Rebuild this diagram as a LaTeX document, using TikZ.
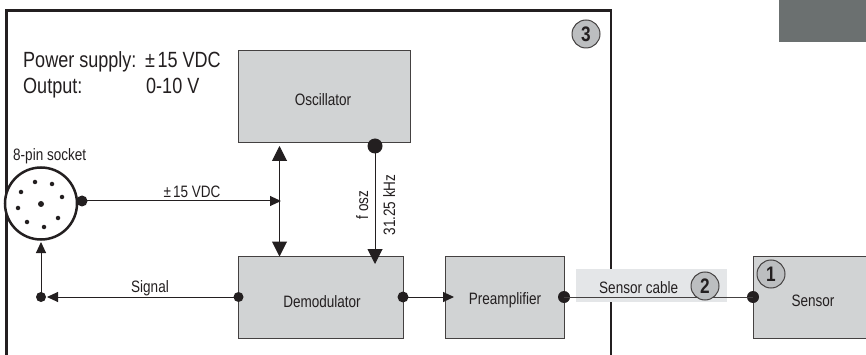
\documentclass[tikz,border=0pt]{standalone}
\usepackage{fontspec}
\setmainfont[FakeStretch=0.82]{Liberation Sans}
\usetikzlibrary{arrows.meta}
\definecolor{ink}{HTML}{231F20}
\definecolor{boxgrey}{HTML}{D1D3D4}
\definecolor{numgrey}{HTML}{BCBEC0}
\definecolor{bandgrey}{HTML}{E4E6E8}
\definecolor{patchgrey}{HTML}{6B7070}
\newcommand{\fsz}[1]{\fontsize{#1}{#1}\selectfont}
\tikzset{
  x=1pt,y=-1pt,
  block/.style={draw=ink!85,line width=1pt,fill=boxgrey,inner sep=0pt},
  dotnode/.style={circle,fill=ink,inner sep=0pt,minimum size=#1},
  pin/.style={circle,fill=ink,inner sep=0pt,minimum size=4.5},
  numcircle/.style={circle,draw=ink!85,line width=1pt,fill=numgrey,inner sep=0pt,minimum size=28,font=\fsz{21}\bfseries,text=ink},
  lbl/.style={anchor=base,inner sep=0pt,font=\fsz{16.5},text=ink},
  big/.style={anchor=base west,inner sep=0pt,font=\fsz{22},text=ink},
  wire/.style={draw=ink,line width=1pt},
  tipbig/.style={-{Triangle[length=15,width=15]}},
  tipsmall/.style={-{Triangle[length=11,width=10]}},
}
\begin{document}
\begin{tikzpicture}
\useasboundingbox (0,0) rectangle (866,355);
\fill[white] (0,0) rectangle (866,355);
\fill[patchgrey] (779,0) rectangle (866,42);
% housing
\draw[ink,line width=2.5pt] (6.5,355) -- (6.5,10.5) -- (611,10.5) -- (611,355);
\node[numcircle] (n3) at (586,34) {3};
% text block
\node[big] (ps) at (23,68) {Power supply:};
\node[big] (psv) at (145,68) {±\kern2.5pt 15 VDC};
\node[big] (ou) at (23,93.5) {Output:};
\node[big] (ouv) at (146,93.5) {0-10 V};
% blocks
\node[block,minimum width=171.5,minimum height=92] (osc) at (324.25,97) {};
\node[lbl] (osct) at (323,106) {Oscillator};
\node[block,minimum width=164.5,minimum height=82] (dem) at (320.75,297) {};
\node[lbl] (demt) at (322,307) {Demodulator};
\node[block,minimum width=119,minimum height=82] (pre) at (504.5,297) {};
\node[lbl] (pret) at (505,304) {Preamplifier};
\node[block,minimum width=117,minimum height=82] (sen) at (811.5,297) {};
\node[lbl] (sent) at (813,306) {Sensor};
% cable band
\fill[bandgrey] (576,269) rectangle (727,302);
% socket
\node[circle,draw=ink,line width=2.5pt,fill=white,inner sep=0pt,minimum size=72] (sock) at (41,203.5) {};
\node[lbl,anchor=base west] (sockt) at (13,161) {8-pin socket};
\foreach \i/\px/\py in {a/35/182,b/52/184,c/21/192,d/62/197,e/18/208,f/27/222,g/44/227,h/58/218}
  \node[pin] (p\i) at (\px,\py) {};
\node[dotnode=6] (pc) at (41,204) {};
% junction dots
\node[dotnode=11] (d1) at (82,201) {};
\node[dotnode=10] (d2) at (41,297) {};
\node[dotnode=10] (d3) at (238.5,297) {};
\node[dotnode=11] (d4) at (403,297) {};
\node[dotnode=15] (d5) at (375,146) {};
\node[dotnode=12] (d6) at (564,297) {};
\node[dotnode=12] (d7) at (753,297) {};
% free ends
\coordinate (jn) at (281,201);
\coordinate (up) at (279.5,146);
\coordinate (dn) at (279.5,256.5);
\coordinate (oscin) at (375,264);
\coordinate (sigend) at (47,297);
\coordinate (sockin) at (41,242);
\coordinate (prein) at (454,297);
% connectors
\draw[wire,tipsmall] (d1.center) -- (jn);
\draw[wire,{Triangle[length=15,width=15]}-{Triangle[length=15,width=15]}] (up) -- (dn);
\draw[wire,tipbig] (d5.center) -- (oscin);
\draw[wire,tipsmall] (d3.center) -- (sigend);
\draw[wire,tipsmall] (d2.center) -- (sockin);
\draw[wire,tipsmall] (d4.center) -- (prein);
\draw[draw=ink!85,line width=1pt] (d6.center) -- (d7.center);
% labels
\node[lbl] (v15) at (192,197) {±\kern2pt 15 VDC};
\node[lbl] (sig) at (150,292) {Signal};
\node[lbl,rotate=90] (fo) at (368,205) {f osz};
\node[lbl,rotate=90] (khz) at (395,205) {31.25 kHz};
\node[lbl,anchor=base west] (cab) at (599,293) {Sensor cable};
\node[numcircle] (n2) at (705,286) {2};
\node[numcircle] (n1) at (771,274) {1};
\end{tikzpicture}
\end{document}
